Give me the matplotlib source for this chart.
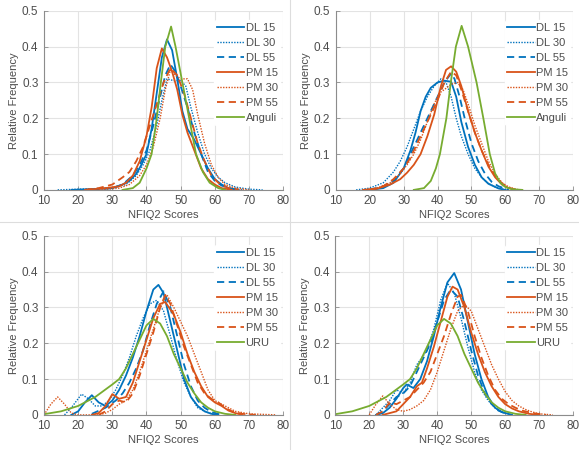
import matplotlib
matplotlib.use("Agg")
import matplotlib.pyplot as plt
from matplotlib.lines import Line2D

plt.rcParams['font.family'] = ['Liberation Sans', 'DejaVu Sans']

# curve points: (score, relative frequency)
# top-left panel
tl_dl15 = [(18, 0), (26, 0.003), (30, 0.005), (33, 0.015), (35, 0.025), (37, 0.045), (38.5, 0.07), (40, 0.1),
           (41.5, 0.17), (43, 0.27), (44.5, 0.37), (46, 0.42), (47.5, 0.39), (49, 0.31), (50.5, 0.22), (52, 0.17),
           (54, 0.14), (56, 0.1), (58, 0.06), (60, 0.03), (62, 0.015), (64, 0.005), (67, 0)]
tl_dl30 = [(14, 0), (20, 0.002), (30, 0.005), (34, 0.015), (37, 0.04), (39, 0.07), (41, 0.11), (43, 0.18),
           (44.5, 0.25), (46, 0.31), (48, 0.305), (50, 0.305), (51.5, 0.29), (53, 0.23), (55, 0.16), (57, 0.1),
           (59, 0.06), (61, 0.035), (63, 0.02), (66, 0.008), (70, 0.002), (74, 0)]
tl_dl55 = [(24, 0), (30, 0.005), (33, 0.015), (36, 0.04), (38, 0.07), (40, 0.11), (42, 0.18), (44, 0.26),
           (45.5, 0.32), (47, 0.35), (48.5, 0.33), (50, 0.29), (52, 0.23), (54, 0.16), (56, 0.1), (58, 0.05),
           (60, 0.025), (62, 0.012), (65, 0.003), (68, 0)]
tl_pm15 = [(22, 0), (28, 0.005), (32, 0.01), (34, 0.02), (36, 0.04), (38, 0.08), (40, 0.15), (41.5, 0.23),
           (43, 0.34), (44.5, 0.395), (46, 0.37), (47.5, 0.33), (49, 0.28), (50.5, 0.21), (52, 0.16), (54, 0.11),
           (56, 0.06), (58, 0.03), (60, 0.015), (62, 0.005), (65, 0)]
tl_pm30 = [(26, 0), (32, 0.005), (35, 0.015), (38, 0.04), (40, 0.07), (42, 0.12), (44, 0.2), (45.5, 0.28),
           (47, 0.335), (48.5, 0.32), (50, 0.31), (52, 0.31), (53.5, 0.28), (55, 0.21), (57, 0.13), (59, 0.07),
           (61, 0.035), (63, 0.015), (66, 0.005), (70, 0)]
tl_pm55 = [(22, 0), (26, 0.005), (30, 0.015), (33, 0.035), (35, 0.05), (37, 0.08), (39, 0.12), (41, 0.18),
           (43, 0.24), (45, 0.3), (47, 0.34), (49, 0.32), (51, 0.27), (53, 0.2), (55, 0.13), (57, 0.08),
           (59, 0.04), (61, 0.02), (64, 0.005), (67, 0)]
tl_anguli = [(33, 0), (36, 0.005), (38, 0.02), (40, 0.06), (41.5, 0.1), (43, 0.2), (44.2, 0.3), (45.5, 0.4),
             (47.2, 0.456), (48.5, 0.4), (50.5, 0.3), (52.5, 0.2), (54.5, 0.1), (56.5, 0.05), (58.5, 0.02),
             (61, 0.005), (63, 0)]

# top-right panel
tr_dl15 = [(20, 0), (24, 0.005), (27, 0.02), (30, 0.06), (32, 0.11), (33.5, 0.16), (35, 0.22), (36.5, 0.26),
           (38, 0.285), (40, 0.3), (42, 0.305), (44, 0.302), (45.5, 0.26), (47, 0.19), (49, 0.12), (51, 0.07),
           (53, 0.035), (55, 0.017), (58, 0.004), (60, 0)]
tr_dl30 = [(16, 0), (20, 0.005), (24, 0.02), (27, 0.05), (29, 0.08), (31, 0.12), (33, 0.17), (35, 0.22),
           (37, 0.26), (39, 0.29), (41, 0.31), (42.5, 0.3), (44, 0.26), (45.5, 0.2), (47, 0.15), (49, 0.1),
           (51, 0.06), (53, 0.035), (55, 0.018), (57, 0.008), (60, 0)]
tr_dl55 = [(20, 0), (24, 0.01), (27, 0.025), (30, 0.06), (32, 0.1), (34, 0.14), (36, 0.18), (38, 0.22),
           (40, 0.26), (42, 0.3), (44, 0.325), (45, 0.31), (46.5, 0.26), (48, 0.2), (50, 0.13), (52, 0.08),
           (54, 0.045), (56, 0.022), (58, 0.01), (61, 0)]
tr_pm15 = [(18, 0), (22, 0.003), (26, 0.015), (29, 0.03), (31, 0.048), (33, 0.07), (35, 0.1), (37, 0.15),
           (39, 0.21), (41, 0.29), (42.5, 0.335), (44, 0.345), (45.5, 0.33), (47, 0.29), (49, 0.22), (51, 0.16),
           (53, 0.11), (55, 0.065), (57, 0.035), (59, 0.015), (61, 0.005), (63, 0)]
tr_pm30 = [(18, 0), (22, 0.005), (26, 0.02), (29, 0.045), (31, 0.07), (33, 0.1), (35, 0.14), (37, 0.19),
           (39, 0.24), (40.5, 0.27), (42, 0.28), (44, 0.295), (46, 0.3), (47.5, 0.28), (49, 0.24), (51, 0.18),
           (53, 0.13), (55, 0.08), (57, 0.045), (59, 0.02), (61, 0.008), (64, 0)]
tr_pm55 = [(20, 0), (24, 0.01), (27, 0.03), (30, 0.06), (32, 0.09), (34, 0.13), (36, 0.17), (38, 0.21),
           (40, 0.25), (42, 0.3), (44, 0.33), (45.5, 0.32), (47, 0.28), (49, 0.22), (51, 0.16), (53, 0.11),
           (55, 0.07), (57, 0.04), (59, 0.018), (61, 0.006), (63, 0)]
tr_anguli = [(33, 0), (36, 0.005), (38, 0.025), (39.5, 0.06), (40.7, 0.1), (42.6, 0.2), (43.9, 0.3),
             (45.4, 0.4), (47.1, 0.458), (49, 0.4), (51.5, 0.3), (53.5, 0.2), (55.4, 0.1), (57, 0.045),
             (58.5, 0.02), (60, 0.008), (62, 0.002), (65, 0)]

# bottom-left panel
bl_dl15 = [(18, 0), (20, 0.01), (22, 0.035), (24, 0.055), (26, 0.035), (28, 0.025), (30, 0.04), (32, 0.07),
           (34, 0.11), (36, 0.16), (38, 0.22), (40, 0.29), (42, 0.35), (43.5, 0.363), (45, 0.34), (47, 0.26),
           (49, 0.18), (51, 0.1), (53, 0.05), (55, 0.025), (57, 0.01), (59, 0.003), (61, 0)]
bl_dl30 = [(16, 0), (18, 0.02), (21, 0.058), (23, 0.045), (25, 0.025), (27, 0.025), (29, 0.04), (31, 0.07),
           (33, 0.11), (35, 0.16), (37, 0.22), (39, 0.27), (41, 0.31), (43, 0.32), (45, 0.29), (47, 0.22),
           (49, 0.15), (51, 0.09), (53, 0.05), (55, 0.02), (57, 0.01), (60, 0)]
bl_dl55 = [(24, 0.003), (28, 0.02), (31, 0.04), (33, 0.06), (35, 0.09), (37, 0.13), (39, 0.18), (41, 0.25),
           (43, 0.31), (45, 0.345), (47, 0.3), (49, 0.22), (51, 0.14), (53, 0.08), (55, 0.04), (57, 0.02),
           (59, 0.008), (62, 0)]
bl_pm15 = [(24, 0), (26, 0.005), (28, 0.025), (30, 0.058), (32, 0.045), (34, 0.05), (36, 0.09), (38, 0.15),
           (40, 0.21), (42, 0.27), (44, 0.31), (45.5, 0.315), (48, 0.28), (50, 0.23), (52, 0.17), (54, 0.12),
           (56, 0.08), (58, 0.05), (60, 0.035), (62, 0.025), (64, 0.012), (66, 0.005), (68, 0)]
bl_pm30 = [(10, 0), (12, 0.03), (14, 0.05), (16, 0.03), (18, 0.005), (20, 0), (26, 0), (28, 0.005),
           (30, 0.015), (32, 0.03), (34, 0.04), (36, 0.07), (38, 0.12), (40, 0.18), (42, 0.24), (44, 0.3),
           (46, 0.335), (48, 0.3), (50, 0.26), (52, 0.22), (54, 0.17), (56, 0.12), (58, 0.07), (60, 0.04),
           (62, 0.03), (64, 0.02), (66, 0.01), (70, 0.003), (78, 0)]
bl_pm55 = [(26, 0), (28, 0.01), (30, 0.03), (32, 0.04), (34, 0.035), (36, 0.06), (38, 0.11), (40, 0.17),
           (42, 0.23), (44, 0.3), (45.5, 0.335), (47, 0.31), (49, 0.25), (51, 0.19), (53, 0.14), (55, 0.09),
           (57, 0.06), (59, 0.045), (61, 0.035), (63, 0.02), (65, 0.01), (68, 0.003), (72, 0)]
bl_uru = [(10, 0.002), (15, 0.01), (20, 0.025), (25, 0.05), (30, 0.085), (32, 0.1), (34, 0.13), (36, 0.17),
          (38, 0.21), (40, 0.25), (42, 0.268), (44, 0.255), (46, 0.22), (48, 0.17), (50, 0.13), (52, 0.09),
          (54, 0.06), (56, 0.035), (58, 0.02), (60, 0.01), (63, 0.003), (66, 0)]

# bottom-right panel
br_dl15 = [(22, 0), (24, 0.005), (26, 0.02), (28, 0.045), (30, 0.075), (31, 0.085), (32, 0.08), (33, 0.075),
           (35, 0.1), (37, 0.15), (39, 0.22), (41, 0.3), (43, 0.37), (45, 0.396), (47, 0.35), (49, 0.26),
           (51, 0.17), (53, 0.1), (55, 0.05), (57, 0.02), (59, 0.008), (62, 0)]
br_dl30 = [(22, 0), (24, 0.02), (26, 0.04), (28, 0.07), (30, 0.06), (32, 0.09), (34, 0.14), (35.5, 0.16),
           (37, 0.18), (39, 0.24), (41, 0.32), (43, 0.368), (45, 0.34), (47, 0.27), (49, 0.19), (51, 0.12),
           (53, 0.07), (55, 0.04), (57, 0.02), (59, 0.008), (62, 0)]
br_dl55 = [(22, 0), (24, 0.01), (26, 0.03), (28, 0.05), (30, 0.06), (32, 0.08), (34, 0.12), (36, 0.16),
           (38, 0.2), (40, 0.26), (42, 0.32), (44, 0.35), (46, 0.33), (48, 0.26), (50, 0.18), (52, 0.11),
           (54, 0.06), (56, 0.03), (58, 0.012), (61, 0)]
br_pm15 = [(24, 0), (28, 0.01), (30, 0.03), (32, 0.05), (34, 0.08), (35.5, 0.09), (37, 0.13), (39, 0.19),
           (41, 0.26), (43, 0.33), (44.5, 0.358), (46, 0.35), (48, 0.3), (50, 0.23), (52, 0.17), (54, 0.12),
           (56, 0.08), (58, 0.05), (60, 0.03), (62, 0.018), (64, 0.01), (67, 0.003), (70, 0)]
br_pm30 = [(20, 0), (22, 0.03), (24, 0.053), (26, 0.03), (28, 0.015), (30, 0.01), (32, 0.015), (34, 0.025),
           (36, 0.04), (38, 0.07), (40, 0.12), (42, 0.18), (44, 0.24), (46, 0.29), (48, 0.308), (50, 0.29),
           (52, 0.24), (54, 0.19), (56, 0.14), (58, 0.1), (60, 0.065), (62, 0.04), (64, 0.025), (66, 0.015),
           (68, 0.008), (70, 0.003), (74, 0)]
br_pm55 = [(22, 0), (24, 0.01), (26, 0.035), (28, 0.03), (30, 0.04), (32, 0.05), (34, 0.07), (36, 0.09),
           (38, 0.12), (40, 0.17), (42, 0.22), (44, 0.28), (46, 0.33), (47, 0.335), (49, 0.29), (51, 0.22),
           (53, 0.16), (55, 0.11), (57, 0.07), (59, 0.045), (61, 0.03), (63, 0.02), (65, 0.012), (68, 0.005),
           (72, 0)]
br_uru = bl_uru

labels_top = ['DL 15', 'DL 30', 'DL 55', 'PM 15', 'PM 30', 'PM 55', 'Anguli']
labels_bottom = ['DL 15', 'DL 30', 'DL 55', 'PM 15', 'PM 30', 'PM 55', 'URU']

blue = '#0072BD'
orange = '#D95319'
green = '#77AC30'
dot = (0, (1, 1))
dash = (0, (4, 2.5))
styles = [(blue, '-'), (blue, dot), (blue, dash), (orange, '-'), (orange, dot), (orange, dash), (green, '-')]

panels = [
    ([0.076, 0.578, 0.413, 0.398], [tl_dl15, tl_dl30, tl_dl55, tl_pm15, tl_pm30, tl_pm55, tl_anguli], labels_top),
    ([0.580, 0.578, 0.410, 0.398], [tr_dl15, tr_dl30, tr_dl55, tr_pm15, tr_pm30, tr_pm55, tr_anguli], labels_top),
    ([0.076, 0.078, 0.413, 0.398], [bl_dl15, bl_dl30, bl_dl55, bl_pm15, bl_pm30, bl_pm55, bl_uru], labels_bottom),
    ([0.579, 0.078, 0.411, 0.398], [br_dl15, br_dl30, br_dl55, br_pm15, br_pm30, br_pm55, br_uru], labels_bottom),
]

fig = plt.figure(figsize=(5.79, 4.5), dpi=100)
text_col = '#4d4d4d'
fs = 8

for rect, curves, labels in panels:
    ax = fig.add_axes(rect)
    for pts, (col, ls), lab in zip(curves, styles, labels):
        xs = [p[0] for p in pts]
        ys = [p[1] for p in pts]
        lw = 1.0 if ls == dot else 1.3
        ax.plot(xs, ys, color=col, linestyle=ls, linewidth=lw, label=lab)
    ax.set_xlim(10, 80)
    ax.set_ylim(0, 0.5)
    ax.set_xticks(range(10, 81, 10))
    ax.set_yticks([0, 0.1, 0.2, 0.3, 0.4, 0.5])
    ax.set_yticklabels(['0', '0.1', '0.2', '0.3', '0.4', '0.5'])
    ax.grid(True, color='#e3e3e3', linewidth=0.8)
    ax.set_axisbelow(True)
    for s in ['top', 'right']:
        ax.spines[s].set_visible(False)
    for s in ['left', 'bottom']:
        ax.spines[s].set_color('#8c8c8c')
        ax.spines[s].set_linewidth(0.8)
    ax.tick_params(direction='in', length=3, width=0.6, colors='#8c8c8c', labelcolor=text_col, labelsize=fs + 0.5,
                   pad=4)
    ax.set_xlabel('NFIQ2 Scores', fontsize=fs, color=text_col, labelpad=2)
    ax.set_ylabel('Relative Frequency', fontsize=fs, color=text_col, labelpad=2)
    leg = ax.legend(loc='upper right', bbox_to_anchor=(1.0, 0.965), frameon=True, fontsize=fs,
                    handlelength=2.5, handletextpad=0.1, labelspacing=0.45, borderaxespad=0.3, borderpad=0.2)
    leg.get_frame().set_edgecolor('white')
    leg.get_frame().set_facecolor('white')
    leg.get_frame().set_alpha(1)
    for t in leg.get_texts():
        t.set_color(text_col)

# faint panel borders from the source image
fig.add_artist(Line2D([0.5, 0.5], [0, 1], color='#dddddd', linewidth=0.8))
fig.add_artist(Line2D([0, 1], [0.507, 0.507], color='#dddddd', linewidth=0.8))

fig.savefig('out.png', dpi=100)
